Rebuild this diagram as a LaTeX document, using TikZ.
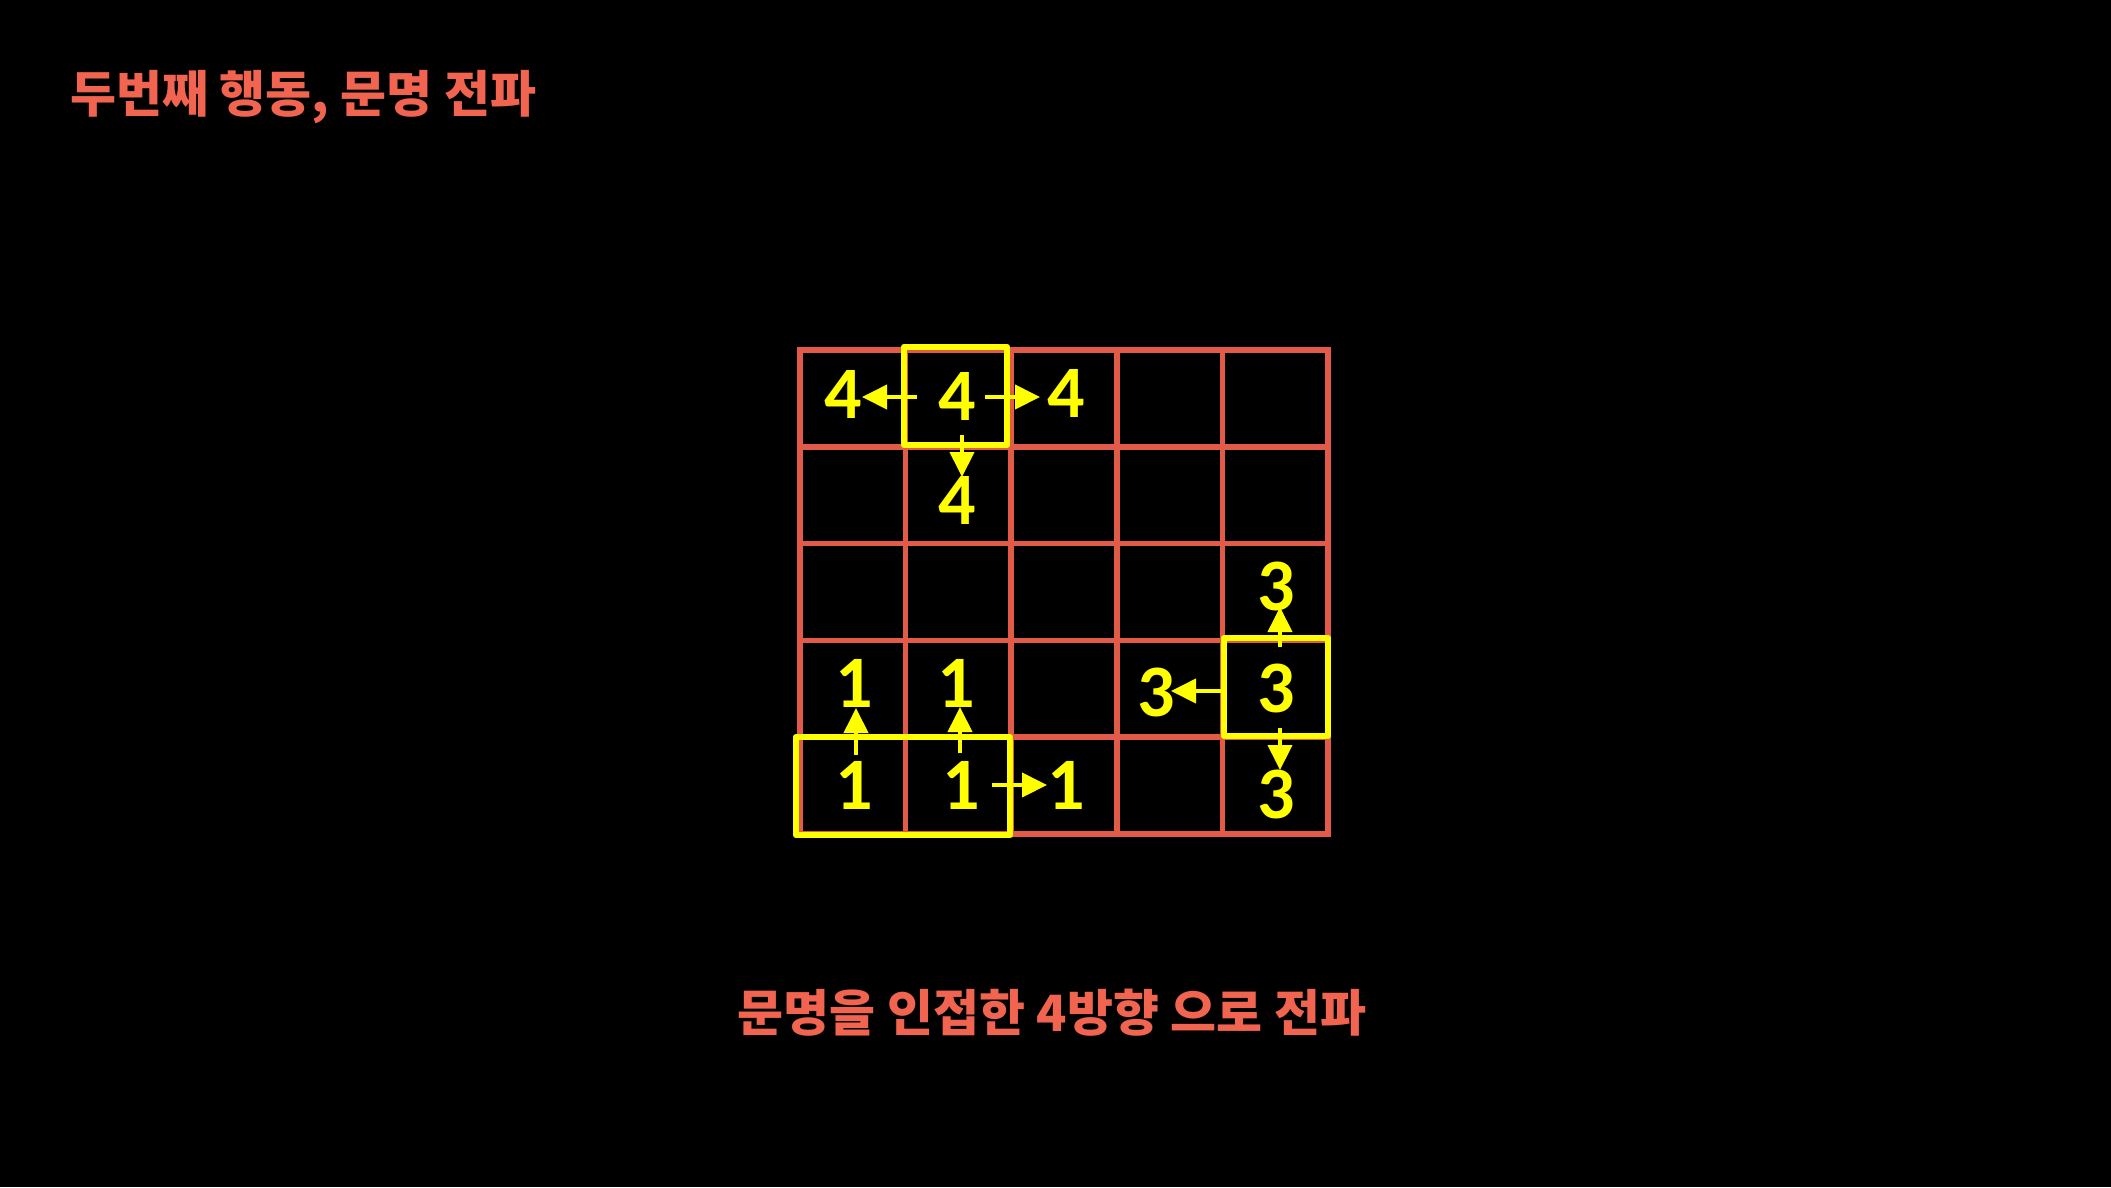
\documentclass[tikz,border=0pt]{standalone}
\usepackage{fontspec}
\newfontfamily\kofont{Noto Sans CJK KR}
\newfontfamily\numfont{Carlito}
\usetikzlibrary{arrows.meta,calc}
\definecolor{gridred}{RGB}{226,90,72}
\definecolor{textred}{RGB}{240,100,80}
\definecolor{hlyellow}{RGB}{255,255,0}
\begin{document}
\begin{tikzpicture}[x=1pt,y=-1pt,
  cell/.style={draw=gridred,line width=5.5pt,minimum width=105.6pt,minimum height=96.8pt,inner sep=0pt,outer sep=0pt},
  hl/.style={draw=hlyellow,line width=6.5pt,line join=round},
  arr/.style={draw=hlyellow,line width=4pt,-{Triangle[length=25pt,width=24pt]}},
  num/.style={text=hlyellow,font=\numfont\bfseries\fontsize{74}{74}\selectfont,inner sep=0pt},
  ko/.style={text=textred,font=\kofont\bfseries\fontsize{50}{50}\selectfont,inner sep=0pt}]
\fill[black] (0,0) rectangle (2111,1187);
\useasboundingbox (0,0) rectangle (2111,1187);
% grid
\foreach \r in {0,...,4}{
  \foreach \c in {0,...,4}{
    \node[cell] (c\r\c) at ({800+105.6*(\c+0.5)},{350+96.8*(\r+0.5)}) {};
  }
}
% highlight boxes
\draw[hl] ($(c01.north west)+(-1.6,-3)$) rectangle ($(c01.south east)+(-4,-2)$);
\draw[hl] ($(c40.north west)+(-4,0)$) rectangle ($(c41.south east)+(-1,1)$);
\draw[hl] ($(c34.north west)+(1.6,-2.4)$) rectangle ($(c34.south east)+(0,-1.2)$);
% numbers
\node[num] (d00) at (843,394) {4};
\node[num] (d01) at (957,396) {4};
\node[num] (d02) at (1066,393) {4};
\node[num] (d11) at (957,500) {4};
\node[num] (d24) at (1276,586) {3};
\node[num] (d33) at (1156,692) {3};
\node[num] (d34) at (1276,688) {3};
\node[num] (d44) at (1276,794) {3};
\node[num] (d30) at (854,683) {1};
\node[num] (d31) at (956,683) {1};
\node[num] (d40) at (854,785) {1};
\node[num] (d41) at (961,785) {1};
\node[num] (d42) at (1066,785) {1};
% arrows
\draw[arr] ($(d01)+(-40,1)$) -- ($(d00)+(19,3)$);
\draw[arr] ($(d01)+(28,1)$) -- ($(d02)+(-26,4)$);
\draw[arr] ($(d01)+(5,39)$) -- ($(d11)+(5,-23)$);
\draw[arr] ($(d34)+(4,-41)$) -- ($(d24)+(4,21)$);
\draw[arr] ($(d34)+(-54,3)$) -- ($(d33)+(15,-1)$);
\draw[arr] ($(d34)+(4,40)$) -- ($(d44)+(4,-24)$);
\draw[arr] ($(d40)+(2,-30)$) -- ($(d30)+(2,25)$);
\draw[arr] ($(d41)+(-1,-32)$) -- ($(d31)+(4,24)$);
\draw[arr] ($(d41)+(31,0)$) -- ($(d42)+(-19,0)$);
% texts
\node[ko,anchor=west] (title) at (70,97) {두번째 행동, 문명 전파};
\node[ko] (caption) at (1052,1013) {문명을 인접한 4방향 으로 전파};
\end{tikzpicture}
\end{document}
